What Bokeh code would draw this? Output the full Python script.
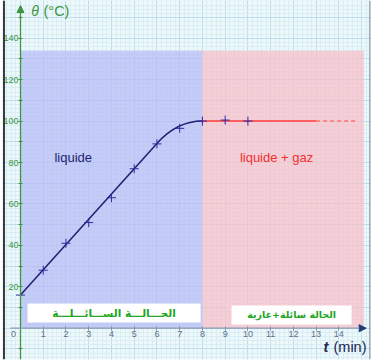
import numpy as np
from bokeh.plotting import figure
from bokeh.models import (LinearAxis, FixedTicker, Grid, Range1d, Arrow, NormalHead, Span)
from bokeh.core.properties import value
from bokeh.embed import file_html
from bokeh.resources import INLINE

# ---------------- data ----------------
time_min = [0, 1, 2, 3, 4, 5, 6, 7, 8, 9, 10]
theta_c = [16, 28, 41, 51, 63, 77, 89, 96.5, 100, 100.5, 100]
# heating curve as drawn in the picture: straight part, then bend to the plateau
curve_knot_t = [0, 6, 8]
curve_knot_theta = [16, 89.2, 100]
plateau_theta = 100
plateau_solid_t = [8, 13]
plateau_dash_t = [13, 14.8]

phase_names = ["liquide", "liquide + gaz"]
phase_start = [0, 8]
phase_end = [8, 15.1]
phase_top = 134
phase_label_t = [2.32, 11.26]
phase_label_theta = [82.4, 82.4]

arabic_labels = ["الحـــالـــة الســـائـــلـــة", "الحالة سائلة+غازية"]
arabic_left = [0.31, 9.28]
arabic_right = [7.92, 14.56]
arabic_bottom = [2.8, 1.8]
arabic_top = [11.9, 11.0]

x_tick_labels = [1, 2, 3, 4, 5, 6, 7, 8, 9, 10, 11, 12, 13, 14]
y_tick_labels = [20, 40, 60, 80, 100, 120, 140]
y_minor_ticks = [-10, 10, 30, 50, 70, 90, 110, 130, 150]

# ---------------- styles ----------------
FONT = value("Liberation Sans")
GREEN = "#3a963f"
NAVY = "#1e1e6e"
MARK = "#2c2ca0"
RED = "#ff3b3b"

XS, XE = -0.7916, 15.391
YS, YE = -15.11, 158.23

p = figure(width=374, height=363,
           x_range=Range1d(XS, XE), y_range=Range1d(YS, YE),
           x_axis_type=None, y_axis_type=None,
           output_backend="svg", toolbar_location=None,
           min_border=0, min_border_left=2, min_border_right=4,
           min_border_top=0, min_border_bottom=4,
           background_fill_color="#eef8fb", border_fill_color="white",
           outline_line_color=None)

# graph-paper grid
gx = Grid(dimension=0,
          ticker=FixedTicker(ticks=list(range(-1, 17)),
                             minor_ticks=list(np.round(np.arange(-1, 16.01, 0.2), 2))),
          grid_line_color="#bcdde9", grid_line_width=1,
          minor_grid_line_color="#d8eef5", minor_grid_line_width=1)
gy = Grid(dimension=1,
          ticker=FixedTicker(ticks=list(range(-20, 170, 10)),
                             minor_ticks=list(range(-20, 170, 2))),
          grid_line_color="#bcdde9", grid_line_width=1,
          minor_grid_line_color="#d8eef5", minor_grid_line_width=1)
p.add_layout(gx, "center")
p.add_layout(gy, "center")

# phase regions
p.quad(left=[phase_start[0]], right=[phase_end[0]], bottom=[0], top=[phase_top],
       fill_color="#b3b9f7", fill_alpha=0.7, line_color=None)
p.quad(left=[phase_start[1]], right=[phase_end[1]], bottom=[0], top=[phase_top],
       fill_color="#f7c0ca", fill_alpha=0.75, line_color=None)

# white boxes with Arabic text
p.quad(left=arabic_left, right=arabic_right, bottom=arabic_bottom, top=arabic_top,
       fill_color="white", line_color=None)
p.text(x=[(a + b) / 2 for a, b in zip(arabic_left, arabic_right)],
       y=[(a + b) / 2 for a, b in zip(arabic_bottom, arabic_top)],
       text=arabic_labels, text_font=value("DejaVu Sans"), text_font_style="bold",
       text_font_size=["10.5px", "9.5px"], text_color="#22a524",
       text_align="center", text_baseline="middle")

# phase labels
p.text(x=phase_label_t, y=phase_label_theta, text=phase_names,
       text_color=[NAVY, "#f03030"], text_font=FONT, text_font_size="13px",
       text_align="center", text_baseline="middle")

# heating curve: straight segment then smooth bend onto the plateau
slope = (curve_knot_theta[1] - curve_knot_theta[0]) / (curve_knot_t[1] - curve_knot_t[0])
p.line(x=curve_knot_t[:2], y=curve_knot_theta[:2], line_color=NAVY, line_width=1.5)
dt = curve_knot_t[2] - curve_knot_t[1]
p.bezier(x0=[curve_knot_t[1]], y0=[curve_knot_theta[1]],
         x1=[curve_knot_t[2]], y1=[curve_knot_theta[2]],
         cx0=[curve_knot_t[1] + dt / 3], cy0=[curve_knot_theta[1] + slope * dt / 3],
         cx1=[curve_knot_t[2] - dt / 3], cy1=[curve_knot_theta[2]],
         line_color=NAVY, line_width=1.5)

# boiling plateau
p.line(x=plateau_solid_t, y=[plateau_theta] * 2, line_color=RED, line_width=1.5)
p.line(x=plateau_dash_t, y=[plateau_theta] * 2, line_color="#ff7070", line_width=1.5,
       line_dash="4 3")

# measurement points
p.scatter(x=time_min, y=theta_c, marker="cross", size=9, line_color=MARK, line_width=1)

# axes lines with arrow heads
p.add_layout(Arrow(end=NormalHead(size=7, fill_color=GREEN, line_color=GREEN),
                   x_start=0, y_start=YS, x_end=0, y_end=155.8,
                   line_color=GREEN, line_width=1.3))
p.add_layout(Arrow(end=NormalHead(size=7, fill_color="#1f3c78", line_color="#1f3c78"),
                   x_start=-0.45, y_start=0, x_end=15.2, y_end=0,
                   line_color="#8a9bb3", line_width=1.3))

# picture frame edges
p.add_layout(Span(location=-0.7256, dimension="height", line_color="black", line_width=1.5))
p.add_layout(Span(location=15.37, dimension="height", line_color="#8a8f99", line_width=1.5))

# tick axes
yaxis = LinearAxis(ticker=FixedTicker(ticks=y_tick_labels, minor_ticks=y_minor_ticks),
                   fixed_location=0, axis_line_color=None,
                   major_tick_in=2, major_tick_out=2, minor_tick_in=2, minor_tick_out=2,
                   major_tick_line_color=GREEN, minor_tick_line_color=GREEN,
                   major_label_standoff=0, major_label_text_color=GREEN,
                   major_label_text_font="Liberation Sans",
                   major_label_text_font_size="9px")
p.add_layout(yaxis, "left")
xaxis = LinearAxis(ticker=FixedTicker(ticks=x_tick_labels, minor_ticks=[]),
                   fixed_location=0, axis_line_color=None,
                   major_tick_in=2, major_tick_out=2,
                   major_tick_line_color="#7a8aa3",
                   major_label_standoff=1, major_label_text_color="#5d6d88",
                   major_label_text_font="Liberation Sans",
                   major_label_text_font_size="9px")
p.add_layout(xaxis, "below")

# "0" origin label
p.text(x=[0], y=[0], text=["0"], x_offset=-7, y_offset=3,
       text_color="#5d6d88", text_font=FONT, text_font_size="9px",
       text_align="center", text_baseline="top")

# axis titles
p.text(x=[0], y=[YE], text=["θ"], x_offset=14.5, y_offset=10,
       text_color=GREEN, text_font=FONT, text_font_style="italic",
       text_font_size="14px", text_align="center", text_baseline="middle")
p.text(x=[0], y=[YE], text=["(°C)"], x_offset=23, y_offset=10,
       text_color=GREEN, text_font=FONT, text_font_size="14.5px",
       text_align="left", text_baseline="middle")
p.text(x=[14], y=[0], text=["t"], x_offset=-13, y_offset=18.5,
       text_color="#1a2550", text_font=FONT, text_font_style="bold italic",
       text_font_size="14.5px", text_align="center", text_baseline="middle")
p.text(x=[14], y=[0], text=["(min)"], x_offset=-5.4, y_offset=18.5,
       text_color="#1a2550", text_font=FONT, text_font_size="14.5px",
       text_align="left", text_baseline="middle")

open("out.html", "w").write(file_html(p, INLINE))
